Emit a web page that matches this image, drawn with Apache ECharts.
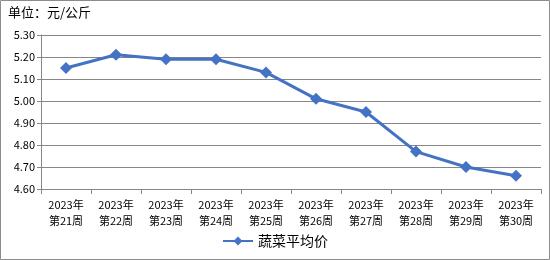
<!DOCTYPE html>
<html>
<head>
<meta charset="utf-8">
<script src="https://cdn.jsdelivr.net/npm/echarts@6/dist/echarts.min.js"></script>
<style>
  html, body { margin: 0; padding: 0; background: #fff; }
  #chart { width: 550px; height: 260px; }
</style>
</head>
<body>
<div id="chart"></div>
<script>
// 周次
const weeks = [
  "2023年\n第21周", "2023年\n第22周", "2023年\n第23周", "2023年\n第24周", "2023年\n第25周",
  "2023年\n第26周", "2023年\n第27周", "2023年\n第28周", "2023年\n第29周", "2023年\n第30周"
];
// 蔬菜平均价 (元/公斤)
const vegPrice = [5.15, 5.21, 5.19, 5.19, 5.13, 5.01, 4.95, 4.77, 4.70, 4.66];
const seriesName = "蔬菜平均价";
const unitText = "单位：元/公斤";

const font = "'Noto Sans CJK SC', 'Noto Sans', sans-serif";
const chart = echarts.init(document.getElementById("chart"));

const option = {
  animation: false,
  textStyle: { fontFamily: font },
  graphic: [
    {
      type: "rect",
      shape: { x: 0.5, y: 0.5, width: 549, height: 259 },
      style: { fill: "none", stroke: "#8c8c8c", lineWidth: 1 },
      silent: true
    },
    {
      type: "text",
      left: 8,
      top: 6,
      style: { text: unitText, fontSize: 13, fill: "#000", fontFamily: font }
    }
  ],
  grid: { left: 41, right: 9, top: 35, bottom: 71 },
  legend: {
    bottom: 7,
    left: "center",
    itemWidth: 30,
    itemHeight: 11,
    itemGap: 5,
    textStyle: { fontSize: 14, color: "#000", fontFamily: font },
    data: [seriesName]
  },
  xAxis: {
    type: "category",
    data: weeks,
    boundaryGap: true,
    axisLine: { lineStyle: { color: "#868686" } },
    axisTick: { show: true, length: 5, lineStyle: { color: "#868686" } },
    axisLabel: { fontSize: 11, color: "#000", lineHeight: 16, margin: 8, interval: 0 }
  },
  yAxis: {
    type: "value",
    min: 4.6,
    max: 5.3,
    interval: 0.1,
    axisLine: { show: true, lineStyle: { color: "#868686" } },
    axisTick: { show: true, length: 4, lineStyle: { color: "#868686" } },
    axisLabel: {
      fontSize: 11, color: "#000", margin: 6,
      formatter: v => v.toFixed(2)
    },
    splitLine: { lineStyle: { color: "#868686" } }
  },
  series: [
    {
      name: seriesName,
      type: "line",
      data: vegPrice,
      symbol: "diamond",
      symbolSize: 12,
      lineStyle: { color: "#4472C4", width: 3 },
      itemStyle: { color: "#4472C4" }
    }
  ]
};

chart.setOption(option);
</script>
</body>
</html>
